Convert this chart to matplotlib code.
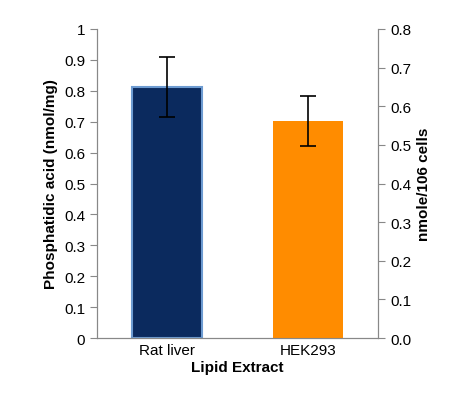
import matplotlib
matplotlib.use('Agg')
import matplotlib.pyplot as plt

categories = ['Rat liver', 'HEK293']
rat_value = 0.812      # left axis, nmol/mg
rat_err = 0.098
hek_value = 0.562      # right axis, nmole/10^6 cells
hek_err = 0.064
left_ticks = [0, 0.1, 0.2, 0.3, 0.4, 0.5, 0.6, 0.7, 0.8, 0.9, 1]
right_ticks = [0.0, 0.1, 0.2, 0.3, 0.4, 0.5, 0.6, 0.7, 0.8]

plt.rcParams['font.family'] = ['Liberation Sans', 'DejaVu Sans']

fig = plt.figure(figsize=(4.75, 4.10), dpi=100)
ax = fig.add_axes([0.204, 0.173, 0.592, 0.754])
ax2 = ax.twinx()

ax.bar(0, rat_value, width=0.5, color='#0b2a5e', edgecolor='#6d9bd1', linewidth=1.5,
       yerr=rat_err, capsize=6, error_kw={'elinewidth': 1.2, 'capthick': 1.2})
ax2.bar(1, hek_value, width=0.5, color='#ff8c00',
        yerr=hek_err, capsize=6, error_kw={'elinewidth': 1.2, 'capthick': 1.2})

ax.set_xlim(-0.5, 1.5)
ax.set_ylim(0, 1)
ax2.set_ylim(0, 0.8)
ax.set_xticks([0, 1])
ax.set_xticklabels(categories, fontsize=11)
ax.set_yticks(left_ticks)
ax.set_yticklabels([f'{t:g}' for t in left_ticks], fontsize=11)
ax2.set_yticks(right_ticks)
ax2.set_yticklabels([f'{t:.1f}' for t in right_ticks], fontsize=11)

ax.set_xlabel('Lipid Extract', fontsize=11, fontweight='bold', labelpad=2)
ax.set_ylabel('Phosphatidic acid (nmol/mg)', fontsize=11, fontweight='bold')
ax2.set_ylabel('nmole/106 cells', fontsize=11, fontweight='bold')

for a in (ax, ax2):
    a.spines['top'].set_visible(False)
    for s in ('left', 'right', 'bottom'):
        a.spines[s].set_color('#888888')
    a.tick_params(axis='y', direction='out', color='#888888', length=5)
ax.tick_params(axis='x', length=0)

fig.savefig('out.png', dpi=100)
